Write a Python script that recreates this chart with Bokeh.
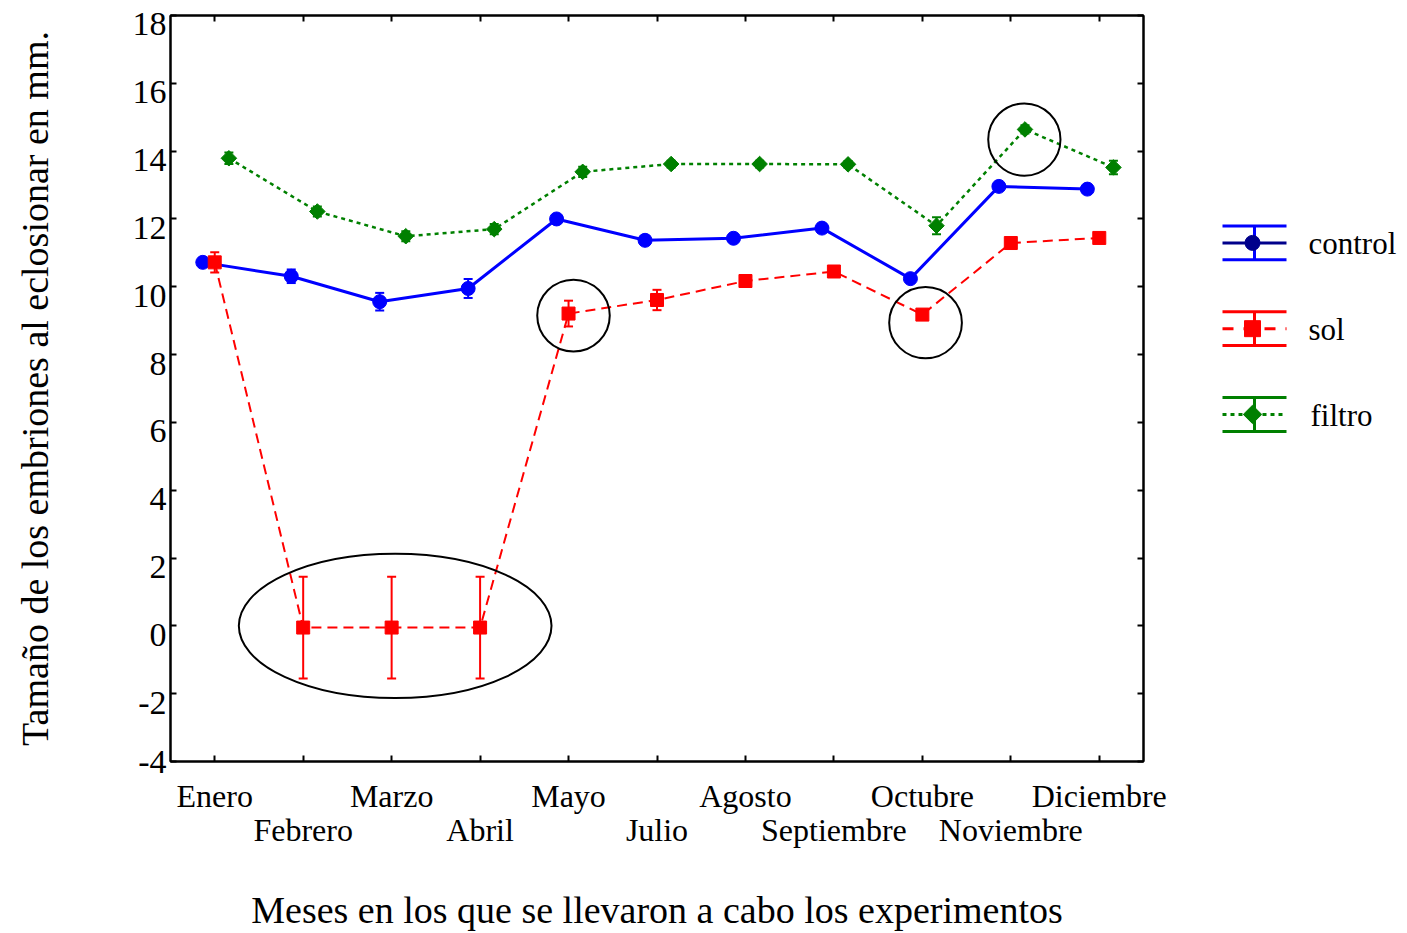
import math
from bokeh.plotting import figure
from bokeh.models import (Range1d, LinearAxis, FixedTicker, ColumnDataSource,
                          Whisker, TeeHead, CustomJSTickFormatter)
from bokeh.layouts import row
from bokeh.embed import file_html
from bokeh.resources import INLINE
from bokeh.core.properties import value

# ---------------- data ----------------
months = ["Enero", "Febrero", "Marzo", "Abril", "Mayo", "Julio", "Agosto",
          "Septiembre", "Octubre", "Noviembre", "Diciembre"]
control = [10.72, 10.31, 9.56, 9.95, 12.00, 11.37, 11.43, 11.73, 10.24, 12.96, 12.88]
control_err = [0.12, 0.20, 0.26, 0.28, 0.10, 0.10, 0.10, 0.12, 0.12, 0.10, 0.12]
sol = [10.72, -0.05, -0.05, -0.05, 9.21, 9.61, 10.17, 10.45, 9.18, 11.29, 11.44]
sol_err = [0.30, 1.50, 1.50, 1.50, 0.38, 0.30, 0.15, 0.12, 0.12, 0.15, 0.15]
filtro = [13.79, 12.22, 11.49, 11.70, 13.39, 13.62, 13.62, 13.61, 11.80, 14.64, 13.52]
filtro_err = [0.17, 0.15, 0.15, 0.15, 0.15, 0.10, 0.10, 0.10, 0.25, 0.12, 0.20]
series_names = ["control", "sol", "filtro"]
y_ticks = [-4, -2, 0, 2, 4, 6, 8, 10, 12, 14, 16, 18]
y_tick_labels = ["-4", "-2", "0", "2", "4", "6", "8", "10", "12", "14", "16", "18"]
# highlighted regions (data coordinates: month position / value, size)
hl_x = [3.04, 5.056, 9.036, 10.153]
hl_y = [0.0, 9.15, 8.94, 14.34]
hl_w = [3.535, 0.82, 0.822, 0.817]
hl_h = [4.26, 2.12, 2.10, 2.13]

x_title = "Meses en los que se llevaron a cabo los experimentos"
y_title = "Tamaño de los embriones al eclosionar en mm."

FONT = "Liberation Serif"
BLUE, RED, GREEN = "#0000FF", "#FF0000", "#008000"

# ---------------- layout constants (pixels) ----------------
W_MAIN, H = 1173, 933
B_LEFT, B_TOP, B_BOTTOM, B_RIGHT = 170, 15, 170, 30
frame_h = H - B_TOP - B_BOTTOM
X0, X1, Y0, Y1 = 0.5, len(months) + 0.5, -4, 18
px_y = frame_h / (Y1 - Y0)
lab_shift = 9 / px_y  # tick labels sit slightly below their ticks

# ---------------- main plot ----------------
p = figure(width=W_MAIN, height=H, x_range=Range1d(X0, X1), y_range=Range1d(Y0, Y1),
           x_axis_location=None, y_axis_location=None, toolbar_location=None,
           output_backend="svg", min_border_left=B_LEFT, min_border_right=B_RIGHT,
           min_border_top=B_TOP, min_border_bottom=B_BOTTOM)
p.extra_y_ranges = {"lab": Range1d(Y0 + lab_shift, Y1 + lab_shift)}
p.xgrid.visible = False
p.ygrid.visible = False
p.outline_line_color = "black"
p.outline_line_width = 2
p.background_fill_color = "white"
p.border_fill_color = "white"

xt = list(range(1, len(months) + 1))


def blank_axis(ticks):
    return LinearAxis(ticker=FixedTicker(ticks=ticks), major_tick_in=6, major_tick_out=0,
                      axis_line_width=2, major_tick_line_width=2, major_label_standoff=0,
                      major_label_text_font_size="0px",
                      formatter=CustomJSTickFormatter(code="return ''"))


p.add_layout(blank_axis(y_ticks), "left")
# label positions: shifted slightly below each tick; the lowest one is kept at the frame edge
lab_ticks = [Y0 + lab_shift] + y_ticks[1:]
ylab = LinearAxis(y_range_name="lab", ticker=FixedTicker(ticks=lab_ticks),
                  axis_line_color=None,
                  major_tick_line_color=None, major_tick_in=0, major_tick_out=0,
                  major_label_standoff=4, major_label_text_font=FONT,
                  major_label_text_font_size="34px", major_label_text_color="black",
                  formatter=CustomJSTickFormatter(
                      args=dict(tvals=y_ticks, tlabels=y_tick_labels),
                      code="""
                          let best = 0;
                          for (let i = 0; i < tvals.length; i++) {
                              if (Math.abs(tvals[i] - tick) < Math.abs(tvals[best] - tick)) best = i;
                          }
                          return tlabels[best];
                      """),
                  axis_label=y_title, axis_label_text_font=FONT,
                  axis_label_text_font_size="38px", axis_label_text_font_style="normal",
                  axis_label_text_color="black", axis_label_standoff=74)
p.add_layout(ylab, "left")
p.add_layout(blank_axis(y_ticks), "right")
p.add_layout(blank_axis(xt), "above")

xa = LinearAxis(ticker=FixedTicker(ticks=xt), major_tick_in=6, major_tick_out=0,
                axis_line_width=2, major_tick_line_width=2, major_label_standoff=16,
                major_label_text_font=FONT, major_label_text_font_size="32px",
                major_label_text_color="black",
                major_label_overrides={i + 1: (m if i % 2 == 0 else "") for i, m in enumerate(months)})
p.add_layout(xa, "below")

xb = LinearAxis(ticker=FixedTicker(ticks=[i + 1 for i in range(1, len(months), 2)]),
                major_tick_in=0, major_tick_out=0, axis_line_color=None,
                major_label_standoff=-5,
                major_label_text_font=FONT, major_label_text_font_size="32px",
                major_label_text_color="black",
                major_label_overrides={i + 1: m for i, m in enumerate(months) if i % 2 == 1},
                axis_label=x_title, axis_label_text_font=FONT,
                axis_label_text_font_size="38px", axis_label_text_font_style="normal",
                axis_label_text_color="black", axis_label_standoff=38)
p.add_layout(xb, "below")

specs = [
    (control, control_err, -0.135, BLUE, "solid", 3, "circle", 14, 0.0),
    (sol, sol_err, 0.0, RED, "10 6", 2, "square", 13, 0.0),
    (filtro, filtro_err, 0.16, GREEN, "4 4", 2.5, "square", 11, math.pi / 4),
]
for vals, errs, off, col, dash, lw, mk, sz, ang in specs:
    src = ColumnDataSource(dict(
        x=[i + 1 + off for i in range(len(vals))], y=vals,
        upper=[v + e for v, e in zip(vals, errs)],
        lower=[v - e for v, e in zip(vals, errs)]))
    p.add_layout(Whisker(source=src, base="x", upper="upper", lower="lower",
                         line_color=col, line_width=2,
                         upper_head=TeeHead(size=9, line_color=col, line_width=2),
                         lower_head=TeeHead(size=9, line_color=col, line_width=2)))
    p.line("x", "y", source=src, line_color=col, line_width=lw, line_dash=dash)
    p.scatter("x", "y", source=src, marker=mk, size=sz, angle=ang,
              fill_color=col, line_color=col)

p.ellipse(x=hl_x, y=hl_y, width=hl_w, height=hl_h, fill_color=None,
          line_color="black", line_width=2)

# ---------------- legend panel ----------------
W_LEG = 1407 - W_MAIN
leg = figure(width=W_LEG, height=H, x_range=Range1d(W_MAIN, 1407),
             y_range=Range1d(H - B_BOTTOM, B_TOP),
             x_axis_location=None, y_axis_location=None, toolbar_location=None,
             output_backend="svg", min_border_left=0, min_border_right=0,
             min_border_top=B_TOP, min_border_bottom=B_BOTTOM)
leg.outline_line_color = None
leg.xgrid.visible = False
leg.ygrid.visible = False

leg_y = [243, 329, 415]
leg_cols = [BLUE, RED, GREEN]
leg_mid = ["#00008B", RED, GREEN]
leg_dash = ["solid", "11 10", "4 4"]
leg_mk = ["circle", "square", "square"]
leg_sz = [15, 16, 13]
leg_ang = [0.0, 0.0, math.pi / 4]
lx0, lx1, lxc = 1222, 1286, 1254
for yy, c, mc, d, mk, sz, ang in zip(leg_y, leg_cols, leg_mid, leg_dash, leg_mk, leg_sz, leg_ang):
    leg.segment(x0=[lx0, lx0, lxc], y0=[yy - 17, yy + 17, yy - 17],
                x1=[lx1, lx1, lxc], y1=[yy - 17, yy + 17, yy + 17],
                line_color=c, line_width=3)
    leg.line(x=[lx0, lx1], y=[yy, yy], line_color=mc, line_width=3, line_dash=d)
    leg.scatter(x=[lxc - 2], y=[yy], marker=mk, size=sz, angle=ang,
                fill_color=mc, line_color=mc)
leg.text(x=[1308, 1308, 1310], y=[yy + 1 for yy in leg_y], text=series_names,
         text_font=value(FONT), text_font_size="31px", text_baseline="middle",
         text_align="left", text_color="black")

layout = row(p, leg)
open("out.html", "w").write(file_html(layout, INLINE))
